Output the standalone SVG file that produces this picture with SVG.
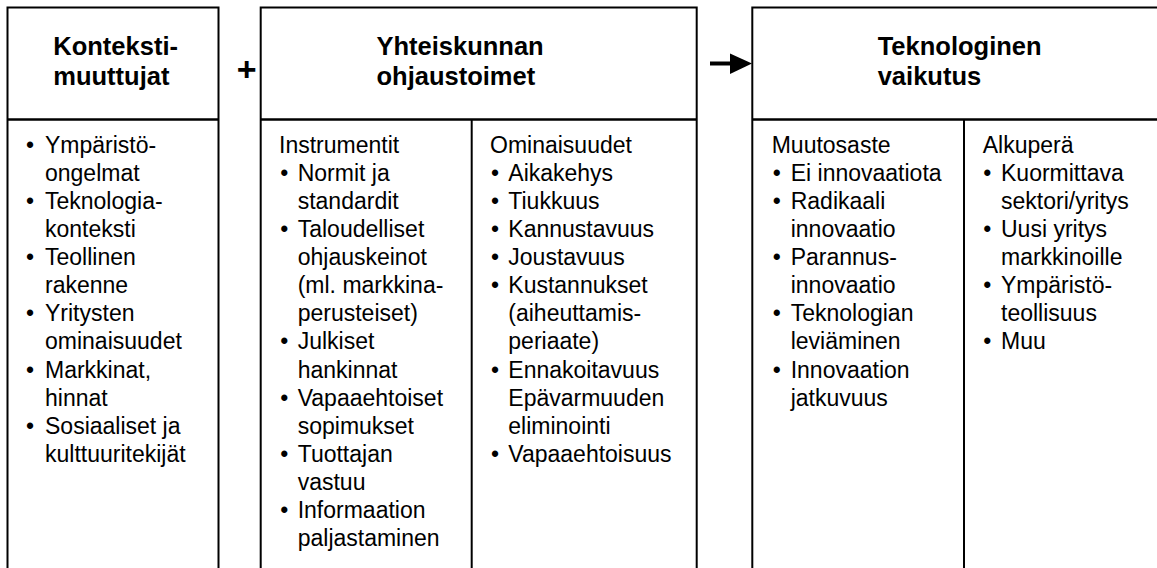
<svg xmlns="http://www.w3.org/2000/svg" width="1157" height="568" viewBox="0 0 1157 568">
<style>
.box{fill:#fff;stroke:#000;stroke-width:2}
.div{stroke:#000;stroke-width:2.5}
.col{stroke:#000;stroke-width:2}
.t{font-family:"Liberation Sans",Arial,sans-serif;font-weight:bold;font-size:25.5px;fill:#000}
.b{font-family:"Liberation Sans",Arial,sans-serif;font-size:23px;fill:#000}
</style>
<rect width="1157" height="568" fill="#fff"/>
<g id="connectors">
<text class="t" x="246.7" y="80.5" text-anchor="middle" style="font-size:34px">+</text>
<line x1="710" y1="63.5" x2="732" y2="63.5" stroke="#000" stroke-width="4"/>
<polygon points="730,53.5 752,63.5 730,74" fill="#000"/>
</g>
<g id="kontekstimuuttujat">
<rect class="box" x="7.5" y="7.5" width="211" height="570"/>
<line class="div" x1="7.5" y1="119.5" x2="218.5" y2="119.5"/>
<text class="t" x="53.3" y="55">Konteksti-</text>
<text class="t" x="53.3" y="85">muuttujat</text>
<g class="b">
<text x="26" y="152.7">•</text><text x="45" y="152.7">Ympäristö-</text>
<text x="45" y="180.8">ongelmat</text>
<text x="26" y="208.9">•</text><text x="45" y="208.9">Teknologia-</text>
<text x="45" y="237">konteksti</text>
<text x="26" y="265.1">•</text><text x="45" y="265.1">Teollinen</text>
<text x="45" y="293.2">rakenne</text>
<text x="26" y="321.3">•</text><text x="45" y="321.3">Yritysten</text>
<text x="45" y="349.4">ominaisuudet</text>
<text x="26" y="377.5">•</text><text x="45" y="377.5">Markkinat,</text>
<text x="45" y="405.6">hinnat</text>
<text x="26" y="433.7">•</text><text x="45" y="433.7">Sosiaaliset ja</text>
<text x="45" y="461.8">kulttuuritekijät</text>
</g>
</g>
<g id="ohjaustoimet">
<rect class="box" x="260.7" y="7.5" width="436" height="570"/>
<line class="div" x1="260.7" y1="119.5" x2="696.7" y2="119.5"/>
<line class="col" x1="471.7" y1="119.5" x2="471.7" y2="568"/>
<text class="t" x="376.5" y="55">Yhteiskunnan</text>
<text class="t" x="376.5" y="85">ohjaustoimet</text>
<g class="b">
<text x="279" y="152.7">Instrumentit</text>
<text x="280.3" y="180.8">•</text><text x="297.7" y="180.8">Normit ja</text>
<text x="297.7" y="208.9">standardit</text>
<text x="280.3" y="237">•</text><text x="297.7" y="237">Taloudelliset</text>
<text x="297.7" y="265.1">ohjauskeinot</text>
<text x="297.7" y="293.2">(ml. markkina-</text>
<text x="297.7" y="321.3">perusteiset)</text>
<text x="280.3" y="349.4">•</text><text x="297.7" y="349.4">Julkiset</text>
<text x="297.7" y="377.5">hankinnat</text>
<text x="280.3" y="405.6">•</text><text x="297.7" y="405.6">Vapaaehtoiset</text>
<text x="297.7" y="433.7">sopimukset</text>
<text x="280.3" y="461.8">•</text><text x="297.7" y="461.8">Tuottajan</text>
<text x="297.7" y="489.9">vastuu</text>
<text x="280.3" y="518">•</text><text x="297.7" y="518">Informaation</text>
<text x="297.7" y="546.1">paljastaminen</text>
<text x="490" y="152.7">Ominaisuudet</text>
<text x="491" y="180.8">•</text><text x="508.3" y="180.8">Aikakehys</text>
<text x="491" y="208.9">•</text><text x="508.3" y="208.9">Tiukkuus</text>
<text x="491" y="237">•</text><text x="508.3" y="237">Kannustavuus</text>
<text x="491" y="265.1">•</text><text x="508.3" y="265.1">Joustavuus</text>
<text x="491" y="293.2">•</text><text x="508.3" y="293.2">Kustannukset</text>
<text x="508.3" y="321.3">(aiheuttamis-</text>
<text x="508.3" y="349.4">periaate)</text>
<text x="491" y="377.5">•</text><text x="508.3" y="377.5">Ennakoitavuus</text>
<text x="508.3" y="405.6">Epävarmuuden</text>
<text x="508.3" y="433.7">eliminointi</text>
<text x="491" y="461.8">•</text><text x="508.3" y="461.8">Vapaaehtoisuus</text>
</g>
</g>
<g id="teknologinen-vaikutus">
<rect class="box" x="752.3" y="7.5" width="420" height="570"/>
<line class="div" x1="752.3" y1="119.5" x2="1172" y2="119.5"/>
<line class="col" x1="964" y1="119.5" x2="964" y2="568"/>
<text class="t" x="877.7" y="55">Teknologinen</text>
<text class="t" x="877.7" y="85">vaikutus</text>
<g class="b">
<text x="771.7" y="152.7">Muutosaste</text>
<text x="772.7" y="180.8">•</text><text x="790.7" y="180.8">Ei innovaatiota</text>
<text x="772.7" y="208.9">•</text><text x="790.7" y="208.9">Radikaali</text>
<text x="790.7" y="237">innovaatio</text>
<text x="772.7" y="265.1">•</text><text x="790.7" y="265.1">Parannus-</text>
<text x="790.7" y="293.2">innovaatio</text>
<text x="772.7" y="321.3">•</text><text x="790.7" y="321.3">Teknologian</text>
<text x="790.7" y="349.4">leviäminen</text>
<text x="772.7" y="377.5">•</text><text x="790.7" y="377.5">Innovaation</text>
<text x="790.7" y="405.6">jatkuvuus</text>
<text x="982.7" y="152.7">Alkuperä</text>
<text x="983.3" y="180.8">•</text><text x="1001" y="180.8">Kuormittava</text>
<text x="1001" y="208.9">sektori/yritys</text>
<text x="983.3" y="237">•</text><text x="1001" y="237">Uusi yritys</text>
<text x="1001" y="265.1">markkinoille</text>
<text x="983.3" y="293.2">•</text><text x="1001" y="293.2">Ympäristö-</text>
<text x="1001" y="321.3">teollisuus</text>
<text x="983.3" y="349.4">•</text><text x="1001" y="349.4">Muu</text>
</g>
</g>
</svg>
